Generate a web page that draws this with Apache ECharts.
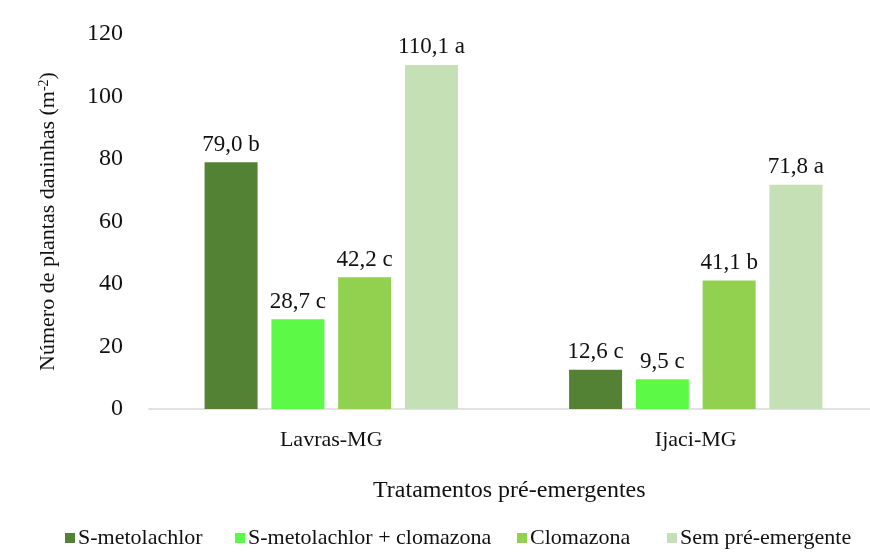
<!DOCTYPE html>
<html>
<head>
<meta charset="utf-8">
<script src="https://cdn.jsdelivr.net/npm/echarts@6/dist/echarts.min.js"></script>
<style>
  html, body { margin: 0; padding: 0; background: #fff; }
  #chart { width: 870px; height: 552px; }
</style>
</head>
<body>
<div id="chart"></div>
<script>
// dados
var locais = ['Lavras-MG', 'Ijaci-MG'];
var tratamentos = ['S-metolachlor', 'S-metolachlor + clomazona', 'Clomazona', 'Sem pré-emergente'];
var sMetolachlor = [79.0, 12.6];
var sMetolachlorClomazona = [28.7, 9.5];
var clomazona = [42.2, 41.1];
var semPre = [110.1, 71.8];
// letras do teste de médias
var letrasSMet = ['b', 'c'];
var letrasSMetClo = ['c', 'c'];
var letrasClo = ['c', 'b'];
var letrasSem = ['a', 'a'];
var yTicks = [0, 20, 40, 60, 80, 100, 120];

var fonte = '"Liberation Serif", "DejaVu Serif", serif';
var myChart = echarts.init(document.getElementById('chart'));

function serie(nome, valores, letras, cor) {
  return {
    name: nome,
    type: 'bar',
    barWidth: 53,
    barGap: '26%',
    itemStyle: { color: cor },
    label: {
      show: true,
      position: 'top',
      distance: 6,
      color: '#111',
      fontFamily: fonte,
      fontSize: 23,
      formatter: function (p) {
        return p.value.toFixed(1).replace('.', ',') + ' ' + letras[p.dataIndex];
      }
    },
    data: valores
  };
}

// uma legenda por item, para posicionar como no original
var legendaX = [60, 230, 512, 662];
var legendas = tratamentos.map(function (t, i) {
  return {
    data: [t],
    left: legendaX[i],
    top: 522,
    itemWidth: 10,
    itemHeight: 10,
    icon: 'rect',
    selectedMode: false,
    textStyle: { fontFamily: fonte, fontSize: 22, color: '#111', padding: [0, 0, 0, -2] }
  };
});

var option = {
  backgroundColor: '#fff',
  textStyle: { fontFamily: fonte },
  grid: {
    left: 149,
    width: 729,
    top: 34,
    bottom: 143,
    outerBoundsMode: 'none'
  },
  legend: legendas,
  graphic: [{
    type: 'text',
    left: 373,
    top: 479,
    style: {
      text: 'Tratamentos pré-emergentes',
      font: '24px ' + fonte,
      fill: '#111'
    }
  }],
  xAxis: {
    type: 'category',
    data: locais,
    axisLine: { lineStyle: { color: '#d9d9d9', width: 1.5 } },
    axisTick: { show: false },
    axisLabel: { color: '#111', fontSize: 22, fontFamily: fonte, margin: 20 }
  },
  yAxis: {
    type: 'value',
    min: 0,
    max: 120,
    interval: 20,
    name: 'Número de plantas daninhas (m{sup|-2})',
    nameLocation: 'middle',
    nameGap: 90,
    nameRotate: 90,
    nameTextStyle: {
      color: '#111',
      fontSize: 22,
      fontFamily: fonte,
      rich: {
        sup: { fontSize: 14, verticalAlign: 'top', padding: [0, 0, 8, 0], color: '#111', fontFamily: fonte }
      }
    },
    axisLine: { show: false },
    axisTick: { show: false },
    splitLine: { show: false },
    axisLabel: {
      color: '#111',
      fontSize: 24,
      fontFamily: fonte,
      margin: 26,
      formatter: function (v) { return yTicks.indexOf(v) >= 0 ? String(v) : ''; }
    }
  },
  series: [
    serie(tratamentos[0], sMetolachlor, letrasSMet, '#548235'),
    serie(tratamentos[1], sMetolachlorClomazona, letrasSMetClo, '#5CFA47'),
    serie(tratamentos[2], clomazona, letrasClo, '#92D050'),
    serie(tratamentos[3], semPre, letrasSem, '#C5E0B4')
  ]
};

option && myChart.setOption(option);
</script>
</body>
</html>
